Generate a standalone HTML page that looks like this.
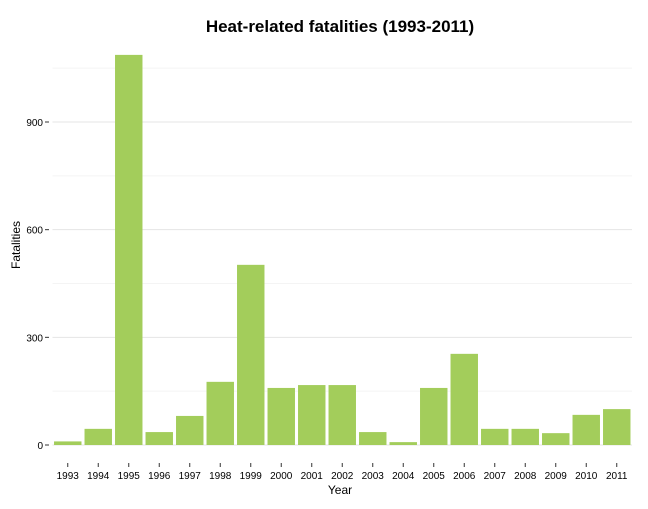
<!DOCTYPE html>
<html><head><meta charset="utf-8"><style>
body{margin:0;background:#fff;}
svg text{font-family:"Liberation Sans",sans-serif;}
</style></head><body>
<svg id="c" width="648" height="504">
<text x="340" y="32" text-anchor="middle" font-size="17" font-weight="bold" fill="#000">Heat-related fatalities (1993-2011)</text>
<text x="340" y="494" text-anchor="middle" font-size="12" fill="#000">Year</text>
<text transform="translate(20,245) rotate(-90)" text-anchor="middle" font-size="12" fill="#000">Fatalities</text>
<g id="grid"></g><g id="bars"></g><g id="axes"></g>
</svg>
<script>
const years=["1993","1994","1995","1996","1997","1998","1999","2000","2001","2002","2003","2004","2005","2006","2007","2008","2009","2010","2011"];
const fatalities=[10,45,1087,36,81,176,502,159,167,167,36,8,159,254,45,45,33,84,100];
const yTicks=[0,300,600,900];
const yMinor=[150,450,750,1050];
const ns="http://www.w3.org/2000/svg";
const L=52.5,R=632,Y0=445,scale=(445-122)/900;
const band=(R-L)/years.length;
const y=v=>Y0-v*scale;
const x=i=>L+i*band;
function mk(t,a,p){const e=document.createElementNS(ns,t);for(const k in a)e.setAttribute(k,a[k]);p.appendChild(e);return e;}
const g=document.getElementById('grid'),b=document.getElementById('bars'),ax=document.getElementById('axes');
yMinor.forEach(v=>{const l=mk('line',{x1:L,x2:R,y1:y(v),y2:y(v),stroke:'#f4f4f4','stroke-width':1},g);

});
yTicks.forEach(v=>{const l=mk('line',{x1:L,x2:R,y1:y(v),y2:y(v),stroke:'#e4e4e4','stroke-width':1},g);


const t=mk('line',{x1:45,x2:49,y1:y(v),y2:y(v),stroke:'#333','stroke-width':1},ax);


const tx=mk('text',{x:43,y:y(v)+4,'text-anchor':'end','font-size':10,fill:'#000'},ax);tx.textContent=v;

});
years.forEach((yr,i)=>{const w=band*0.9,cx=x(i)+band/2;
const r=mk('rect',{x:cx-w/2,y:y(fatalities[i]),width:w,height:fatalities[i]*scale,fill:'#a3cd5b'},b);


const t=mk('line',{x1:cx,x2:cx,y1:463,y2:467,stroke:'#333','stroke-width':1},ax);


const tx=mk('text',{x:cx,y:479,'text-anchor':'middle','font-size':10,fill:'#000'},ax);tx.textContent=yr;

});
</script>
</body></html>
